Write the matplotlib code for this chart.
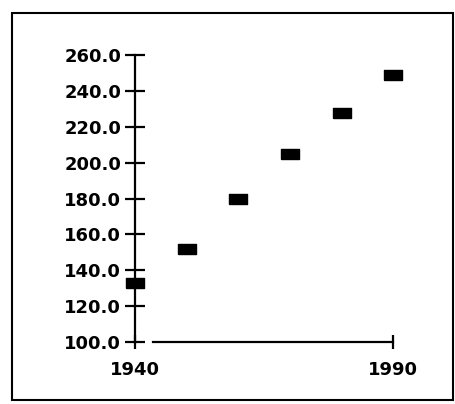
import matplotlib
matplotlib.use("Agg")
import matplotlib.pyplot as plt
from matplotlib.patches import Rectangle

years = [1940, 1950, 1960, 1970, 1980, 1990]
values = [133, 152, 180, 205, 228, 249]

y_ticks = [100, 120, 140, 160, 180, 200, 220, 240, 260]
x_ticks = [1940, 1990]

# flat rectangle marker like the old plotter squares
rect_marker = [(-1, -0.58), (1, -0.58), (1, 0.58), (-1, 0.58), (-1, -0.58)]

fig = plt.figure(figsize=(4.55, 4.04), dpi=100)
ax = fig.add_axes([0.297, 0.1535, 0.567, 0.710])

ax.plot(years, values, linestyle="none", marker=rect_marker,
        markersize=12.5, color="black", clip_on=False, zorder=5)

ax.set_xlim(1940, 1990)
ax.set_ylim(100, 260)

ax.spines["top"].set_visible(False)
ax.spines["right"].set_visible(False)
ax.spines["left"].set_linewidth(1.6)
ax.spines["bottom"].set_linewidth(1.6)
ax.spines["bottom"].set_bounds(1943.5, 1990)

ax.set_yticks(y_ticks)
ax.set_yticklabels([f"{v:.1f}" for v in y_ticks])
ax.set_xticks(x_ticks)
ax.set_xticklabels([str(v) for v in x_ticks])

ax.tick_params(axis="y", direction="inout", length=14, width=1.6, pad=3)
ax.tick_params(axis="x", direction="inout", length=10, width=1.6, pad=9)
for lab in ax.get_yticklabels() + ax.get_xticklabels():
    lab.set_fontsize(13)
    lab.set_fontweight("bold")

# outer box around the whole chart
fig.patches.append(Rectangle((12 / 455, 4 / 404), 441 / 455, 387 / 404,
                             transform=fig.transFigure, fill=False,
                             linewidth=1.5, edgecolor="black"))

fig.savefig("out.png", dpi=100)
